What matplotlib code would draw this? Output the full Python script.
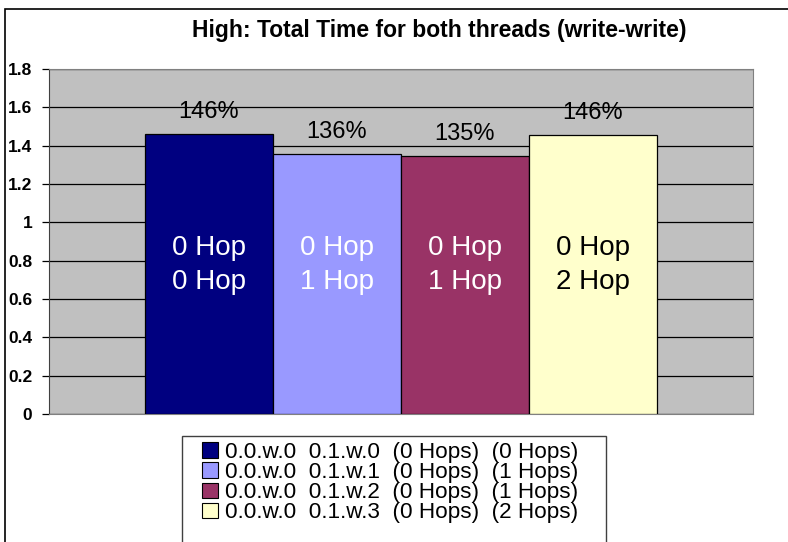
import matplotlib.pyplot as plt
from matplotlib.patches import Rectangle, Patch

plt.rcParams['font.family'] = ['Liberation Sans', 'DejaVu Sans']

series = ['0.0.w.0  0.1.w.0  (0 Hops)  (0 Hops)',
          '0.0.w.0  0.1.w.1  (0 Hops)  (1 Hops)',
          '0.0.w.0  0.1.w.2  (0 Hops)  (1 Hops)',
          '0.0.w.0  0.1.w.3  (0 Hops)  (2 Hops)']
values = [1.46, 1.357, 1.347, 1.456]
pct_labels = ['146%', '136%', '135%', '146%']
inner_labels = ['0 Hop\n0 Hop', '0 Hop\n1 Hop', '0 Hop\n1 Hop', '0 Hop\n2 Hop']
colors = ['#000080', '#9999FF', '#993366', '#FFFFCC']
inner_colors = ['white', 'white', 'white', 'black']
yticks = [0, 0.2, 0.4, 0.6, 0.8, 1, 1.2, 1.4, 1.6, 1.8]

W, H = 788, 542
fig = plt.figure(figsize=(W / 100, H / 100), dpi=100)

# outer chart frame (runs off right and bottom)
fig.patches.append(Rectangle((5 / W, -0.1), 1.2, 1 - 9 / H + 0.1, transform=fig.transFigure,
                             fill=False, edgecolor='black', lw=1.2, clip_on=False))

ax = fig.add_axes([49 / W, 1 - 414 / H, 704 / W, 345 / H])
ax.set_facecolor('#C0C0C0')
ax.set_xlim(0, 1)
ax.set_ylim(0, 1.8)

bw = 128 / 704
x0 = (145 - 49) / 704
for i, v in enumerate(values):
    xc = x0 + bw * (i + 0.5)
    ax.bar(xc, v, width=bw, color=colors[i], edgecolor='black', linewidth=0.9, zorder=3)
    ax.annotate(pct_labels[i], (xc, v), xytext=(0, 8), textcoords='offset points',
                ha='center', va='bottom', fontsize=17, color='black', zorder=4)
    ax.text(xc, 0.777, inner_labels[i], ha='center', va='center', fontsize=20,
            color=inner_colors[i], linespacing=1.42, zorder=4)

ax.set_yticks(yticks)
ax.set_yticklabels([('%g' % t) for t in yticks], fontsize=12.5, fontweight='bold')
ax.yaxis.grid(True, color='black', lw=0.9, zorder=1)
ax.set_xticks([])
ax.tick_params(axis='y', length=5, width=0.9, pad=7, color='black')
for s in ['top', 'right', 'bottom']:
    ax.spines[s].set_color('#808080')
ax.spines['left'].set_color('#404040')

fig.text(439 / W, 1 - 30 / H, 'High: Total Time for both threads (write-write)',
         ha='center', va='center', fontsize=16.5, fontweight='bold')

# legend box drawn by hand, it is cut off at the bottom
fig.patches.append(Rectangle((182 / W, -0.1), (606 - 182) / W, 1 - 436 / H + 0.1,
                             transform=fig.transFigure, facecolor='white',
                             edgecolor='#404040', lw=1, clip_on=False))
handles = [Patch(facecolor=c, edgecolor='black', lw=0.8) for c in colors]
fig.legend(handles, series, loc='upper left', bbox_to_anchor=(202 / W, 1 - 442 / H),
           frameon=False, fontsize=16.2, borderpad=0, borderaxespad=0,
           handlelength=0.72, handleheight=0.68, handletextpad=0.3, labelspacing=-0.04)

fig.savefig('out.png', dpi=100)
